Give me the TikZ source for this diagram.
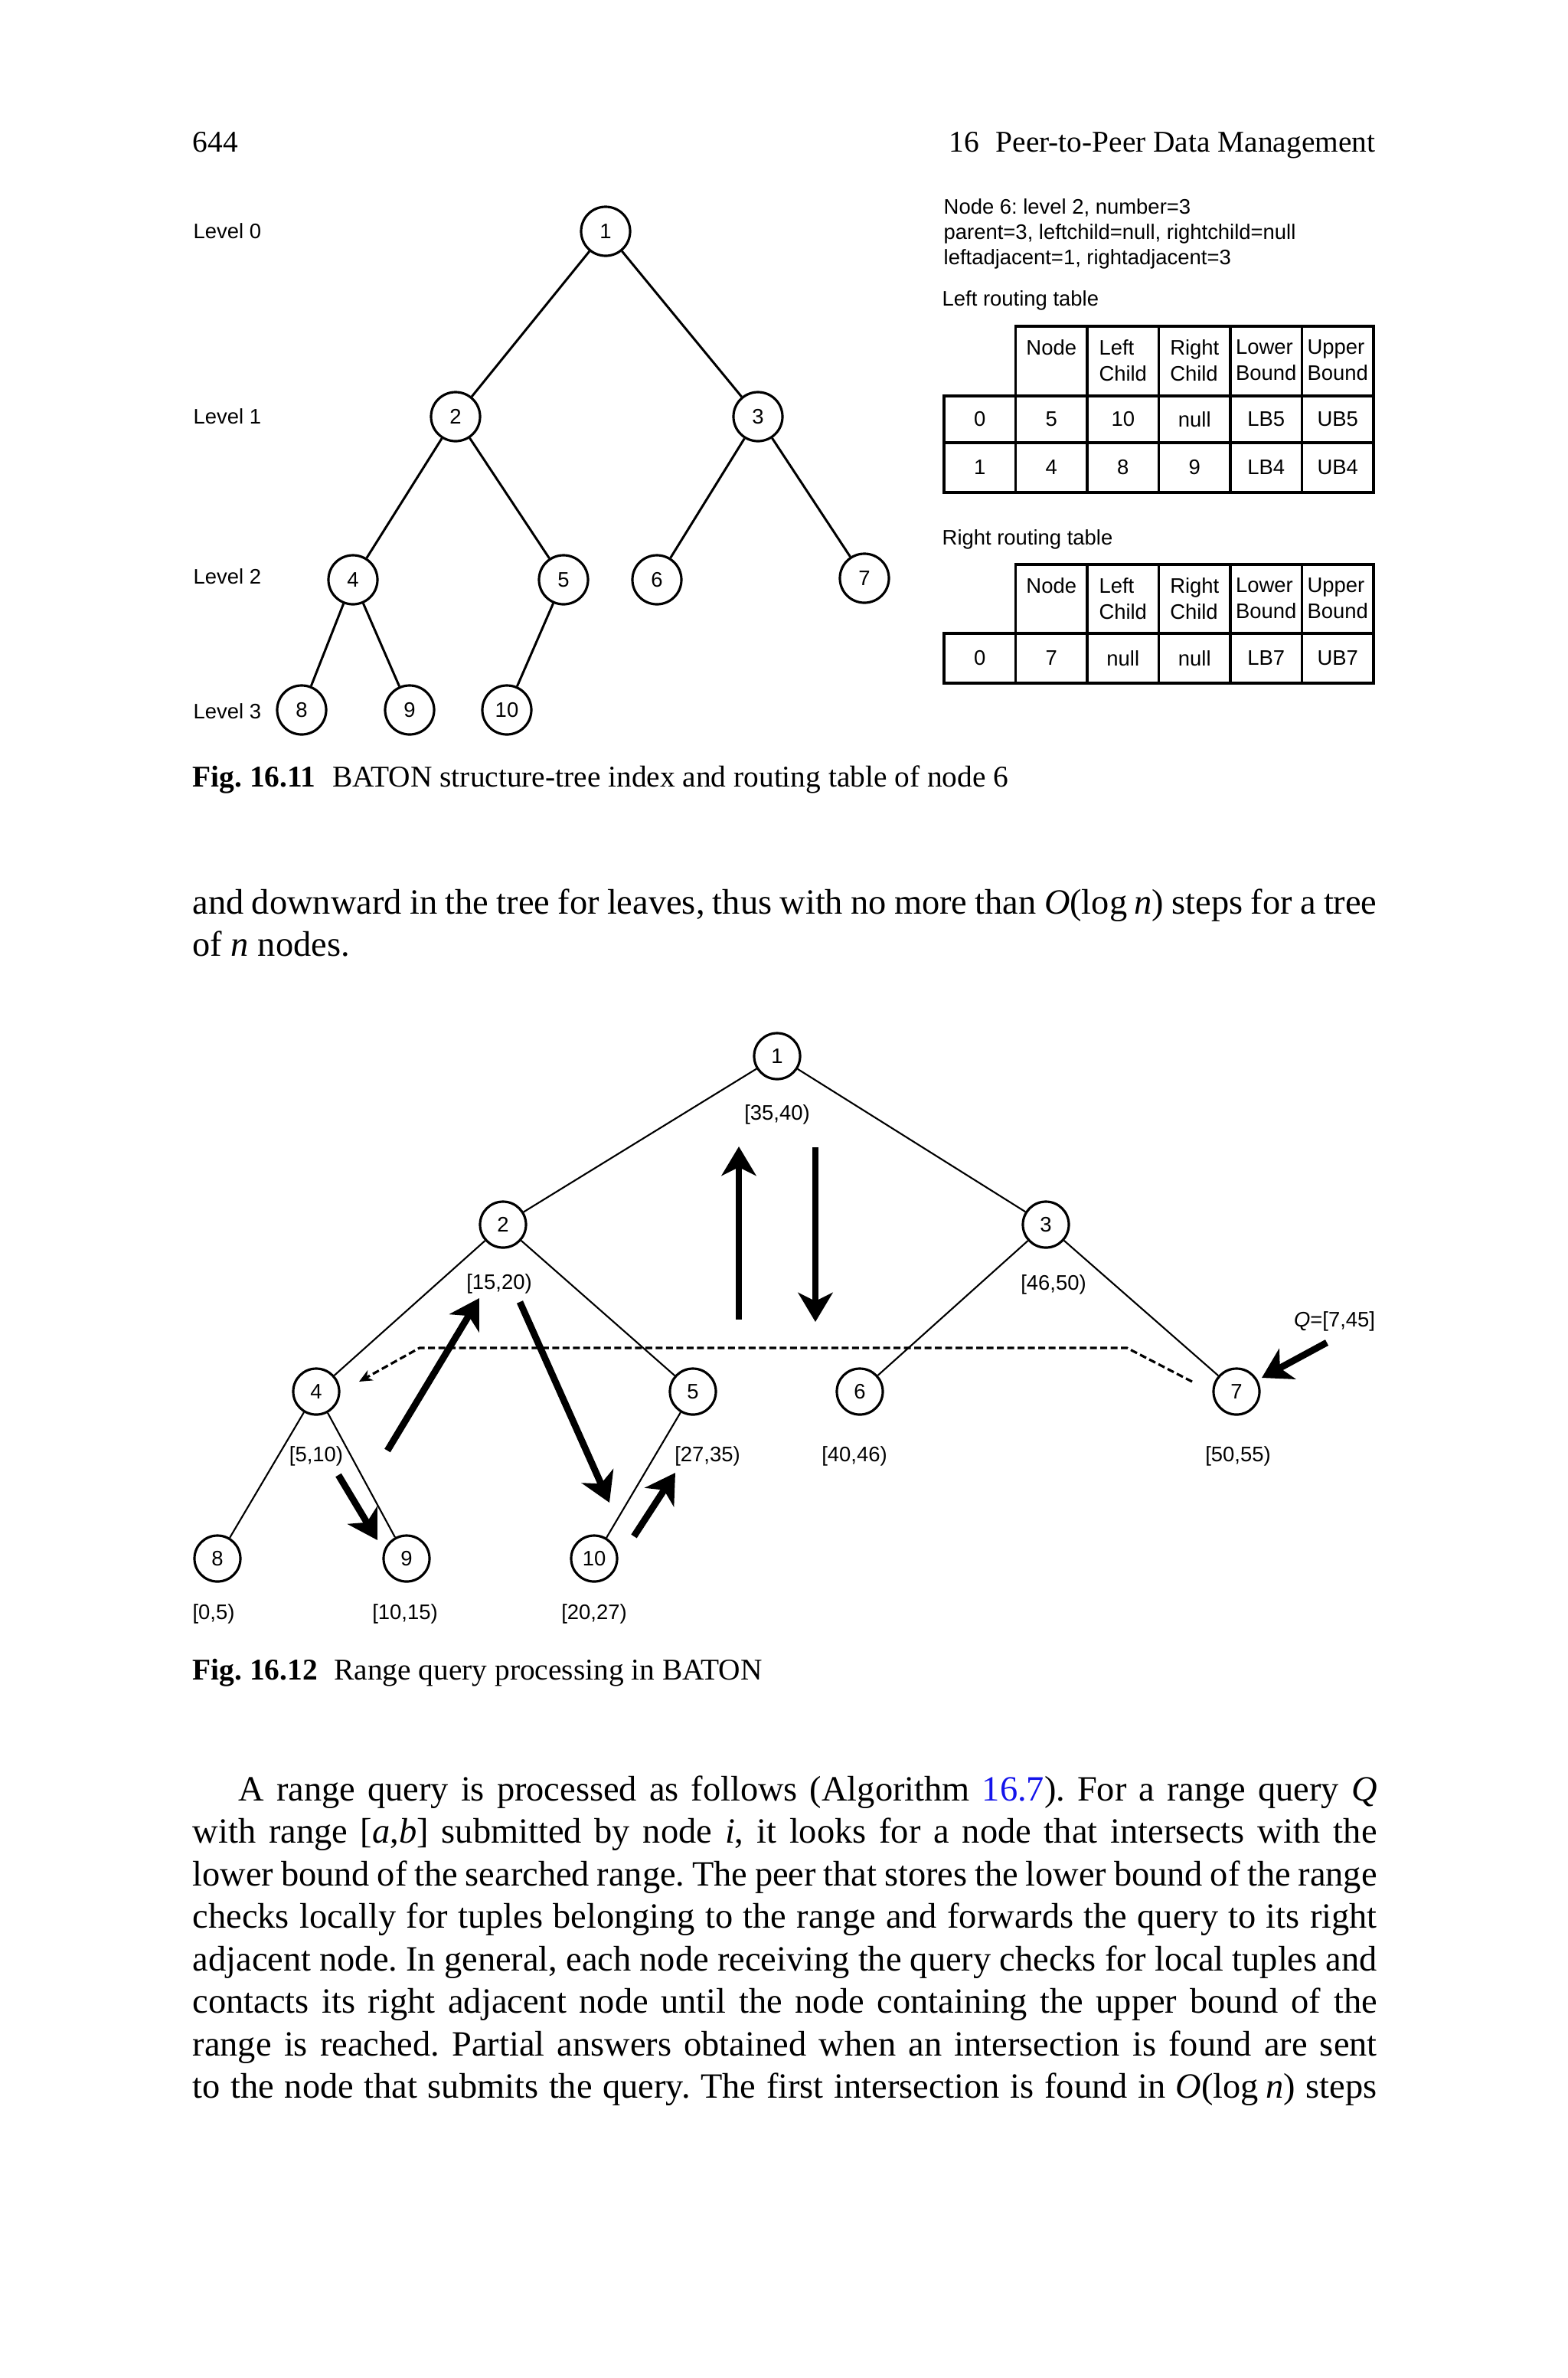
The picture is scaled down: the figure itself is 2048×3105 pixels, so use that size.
\documentclass[tikz,border=0pt]{standalone}
\usepackage{fontspec}
\setmainfont{Liberation Serif}
\newfontfamily\figfont{Liberation Sans}
\usetikzlibrary{arrows.meta,positioning}
\definecolor{linkblue}{RGB}{20,20,235}
\newlength\bodywidth
\setlength\bodywidth{15.46cm}
\newcommand\jline[1]{\makebox[\bodywidth][s]{#1}}
\frenchspacing

\begin{document}
\begin{tikzpicture}[x=0.01cm, y=-0.01cm,
    bodytext/.style={inner sep=0pt, anchor=base west, font=\fontsize{13.2}{15.8}\selectfont},
    headtext/.style={inner sep=0pt, font=\fontsize{11.2}{13.4}\selectfont},
    figtext/.style={inner sep=0pt, font=\figfont\fontsize{7.8}{9.7}\selectfont},
    treenode/.style={circle, draw, line width=0.9pt, minimum size=0.64cm, inner sep=0pt,
      font=\figfont\fontsize{7.8}{9.7}\selectfont},
    rangenode/.style={treenode, minimum size=0.6cm},
    edge/.style={line width=0.85pt},
    thinedge/.style={line width=0.6pt},
    tableline/.style={line width=1pt},
    fat/.style={line width=2.5pt, -{Stealth[length=0.38cm, width=0.45cm, inset=0.11cm]}},
  ]
  \fill[white] (0,0) rectangle (2048,3105);
  \useasboundingbox (0,0) rectangle (2048,3105);

  % running head
  \node[headtext, anchor=base west] (pageno) at (251,198) {644};
  \node[headtext, anchor=base east] (chaptitle) at (1797,198)
    {16\hspace{0.55em}Peer-to-Peer Data Management};

  %%%%%%%%%%%%%%%%%%%%%%%%%%%%%%%%%%%%%%%%%%%%%%
  % Fig. 16.11: BATON tree and routing tables of node 6
  %%%%%%%%%%%%%%%%%%%%%%%%%%%%%%%%%%%%%%%%%%%%%%
  \begin{scope}
    % Levels
    \node[figtext, anchor=west] (lev0) at (252,302) {Level 0};
    \node[figtext, anchor=west] (lev1) at (252,544) {Level 1};
    \node[figtext, anchor=west] (lev2) at (252,753) {Level 2};
    \node[figtext, anchor=west] (lev3) at (252,929) {Level 3};

    % Tree nodes
    \foreach \n/\x/\y in {1/791/302, 2/595/544, 3/990/544, 4/461/757, 5/736/757,
        6/858/757, 7/1129/755, 8/394/927, 9/535/927, 10/662/927}
      \node[treenode] (t\n) at (\x,\y) {\n};
    \foreach \a/\b in {1/2, 1/3, 2/4, 2/5, 3/6, 3/7, 4/8, 4/9, 5/10}
      \draw[edge] (t\a) -- (t\b);

    % Node 6 description
    \node[figtext, anchor=base west] (info1) at (1232,279) {Node 6: level 2, number=3};
    \node[figtext, anchor=base west] (info2) at (1232,312) {parent=3, leftchild=null, rightchild=null};
    \node[figtext, anchor=base west] (info3) at (1232,345) {leftadjacent=1, rightadjacent=3};

    % Left routing table
    \node[figtext, anchor=base west] (lefttitle) at (1230,399) {Left routing table};
    \draw[tableline] (1326.5,426) rectangle (1794,643);
    \draw[tableline] (1233,517) rectangle (1794,643);
    \draw[tableline] (1233,578) -- (1794,578);
    \foreach \x in {1420,1513.5,1607,1700.5}
      \draw[tableline] (\x,426) -- (\x,643);
    \foreach \h [count=\c] in {Node, Left\\Child, Right\\Child, Lower\\Bound, Upper\\Bound}
      \node[figtext, align=left, anchor=north] (lh\c) at ({1233+93.5*(\c+0.5)},443) {\h};
    \foreach \v [count=\c] in {0,5,10,null,LB5,UB5}
      \node[figtext] (lt0\c) at ({1233+93.5*(\c-0.5)},547.5) {\v};
    \foreach \v [count=\c] in {1,4,8,9,LB4,UB4}
      \node[figtext] (lt1\c) at ({1233+93.5*(\c-0.5)},610.5) {\v};

    % Right routing table
    \node[figtext, anchor=base west] (righttitle) at (1230,711) {Right routing table};
    \draw[tableline] (1326.5,737) rectangle (1794,892);
    \draw[tableline] (1233,827) rectangle (1794,892);
    \foreach \x in {1420,1513.5,1607,1700.5}
      \draw[tableline] (\x,737) -- (\x,892);
    \foreach \h [count=\c] in {Node, Left\\Child, Right\\Child, Lower\\Bound, Upper\\Bound}
      \node[figtext, align=left, anchor=north] (rh\c) at ({1233+93.5*(\c+0.5)},754) {\h};
    \foreach \v [count=\c] in {0,7,null,null,LB7,UB7}
      \node[figtext] (rt0\c) at ({1233+93.5*(\c-0.5)},859.5) {\v};
  \end{scope}

  \node[headtext, anchor=base west] (cap1) at (251,1027)
    {\textbf{Fig. 16.11}\hspace{0.55em}BATON structure-tree index and routing table of node 6};

  % text between the figures
  \node[bodytext] (p1) at (251,1193)
    {\jline{and downward in the tree for leaves, thus with no more than \textit{O}(log\hspace{0.2em}\textit{n}) steps for a tree}};
  \node[bodytext] (p2) at (251,1248) {of \textit{n} nodes.};

  %%%%%%%%%%%%%%%%%%%%%%%%%%%%%%%%%%%%%%%%%%%%%%
  % Fig. 16.12: range query Q=[7,45] submitted at node 7
  %%%%%%%%%%%%%%%%%%%%%%%%%%%%%%%%%%%%%%%%%%%%%%
  \begin{scope}
    \foreach \n/\x/\y in {1/1015/1379, 2/657/1599, 3/1366/1599, 4/413/1817, 5/905/1817,
        6/1123/1817, 7/1615/1817, 8/284/2035, 9/531/2035, 10/776/2035}
      \node[rangenode] (b\n) at (\x,\y) {\n};
    \foreach \a/\b in {1/2, 1/3, 2/4, 2/5, 3/6, 3/7, 4/8, 4/9, 5/10}
      \draw[thinedge] (b\a) -- (b\b);

    % Ranges
    \foreach \n/\x/\y/\r in {1/1015/1455/{[35,40)}, 2/652/1676/{[15,20)}, 3/1376/1677/{[46,50)},
        4/413/1901/{[5,10)}, 5/924/1901/{[27,35)}, 6/1116/1901/{[40,46)}, 7/1617/1901/{[50,55)},
        8/279/2107/{[0,5)}, 9/529/2107/{[10,15)}, 10/776/2107/{[20,27)}}
      \node[figtext] (r\n) at (\x,\y) {\r};
    \node[figtext] (qlabel) at (1743,1725) {\textit{Q}=[7,45]};

    % Query path
    \coordinate (qin) at (1733,1753);
    \coordinate (qat) at (1648,1799);
    \draw[fat] (qin) -- (qat);

    \coordinate (adjA) at (1557,1804);
    \coordinate (adjB) at (1472,1760);
    \coordinate (adjC) at (548,1760);
    \coordinate (adjD) at (469,1804);
    \draw[line width=0.9pt, dash pattern=on 0.09cm off 0.045cm,
      -{Stealth[length=0.17cm, width=0.15cm]}] (adjA) -- (adjB) -- (adjC) -- (adjD);

    \coordinate (upS) at (965,1723);
    \coordinate (upE) at (965,1497);
    \draw[fat] (upS) -- (upE);
    \coordinate (dnS) at (1065,1498);
    \coordinate (dnE) at (1065,1726);
    \draw[fat] (dnS) -- (dnE);

    \coordinate (s4) at (506,1894);
    \coordinate (e4) at (626,1695);
    \draw[fat] (s4) -- (e4);
    \coordinate (s2) at (679,1700);
    \coordinate (e2) at (796,1962);
    \draw[fat] (s2) -- (e2);
    \coordinate (s9) at (442,1926);
    \coordinate (e9) at (493,2011);
    \draw[fat] (s9) -- (e9);
    \coordinate (s10) at (828,2006);
    \coordinate (e10) at (882,1923);
    \draw[fat] (s10) -- (e10);
  \end{scope}

  \node[headtext, anchor=base west] (cap2) at (251,2193)
    {\textbf{Fig. 16.12}\hspace{0.55em}Range query processing in BATON};

  % paragraph after the figure
  \foreach \t [count=\i] in {
      {\hspace*{0.6cm}A range query is processed as follows (Algorithm \textcolor{linkblue}{16.7}). For a range query \textit{Q}},
      {with range [\textit{a},\textit{b}] submitted by node \textit{i}, it looks for a node that intersects with the},
      {lower bound of the searched range. The peer that stores the lower bound of the range},
      {checks locally for tuples belonging to the range and forwards the query to its right},
      {adjacent node. In general, each node receiving the query checks for local tuples and},
      {contacts its right adjacent node until the node containing the upper bound of the},
      {range is reached. Partial answers obtained when an intersection is found are sent},
      {to the node that submits the query. The first intersection is found in \textit{O}(log\hspace{0.2em}\textit{n}) steps}}
    \node[bodytext] (q\i) at (251,{2351+55.5*(\i-1)}) {\jline{\t}};
\end{tikzpicture}
\end{document}
